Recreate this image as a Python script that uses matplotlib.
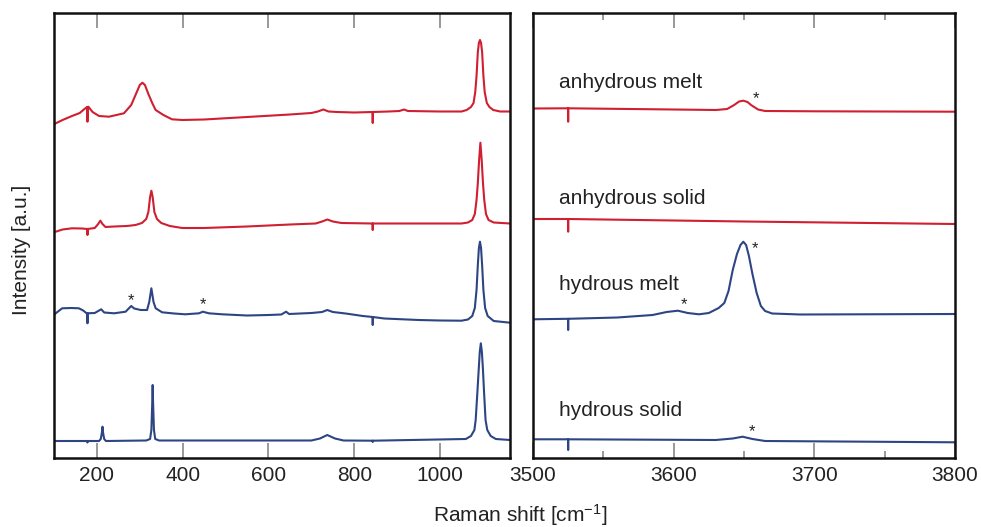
import matplotlib
matplotlib.use("Agg")
import matplotlib.pyplot as plt
from matplotlib.ticker import FixedLocator

plt.rcParams['font.family'] = ['Liberation Sans', 'DejaVu Sans']
plt.rcParams['mathtext.default'] = 'regular'

RED = "#cf1f30"
BLUE = "#2e4584"

# ---------------- left panel (100-1163 cm-1) ----------------
anh_melt_x = [100, 104, 120, 142, 160, 173, 177.9, 178, 178.1, 180, 190, 205, 228, 263, 280, 292, 300, 306,
              312, 320, 330, 337, 355, 375, 399, 450, 550, 650, 700, 715, 728, 740, 760, 800, 842.9, 843,
              843.1, 880, 905, 916, 925, 1000, 1050, 1062, 1072, 1078, 1082, 1085, 1088, 1090.5, 1093,
              1095.5, 1098, 1101, 1104, 1109, 1115, 1124, 1140, 1163]
anh_melt_y = [333, 334.7, 338, 342, 345, 349.7, 351, 336.3, 351, 351.3, 346, 342, 341.3, 344.7, 353, 365, 373,
              375.3, 373, 364, 354, 348, 343, 338.7, 338, 338.5, 341, 343.5, 345, 346.5, 348.5, 346.5, 346,
              345.5, 346, 335, 346, 346.5, 347, 348.5, 347, 346.5, 346.5, 348, 351, 355, 366, 382, 406, 415,
              418, 415, 406, 382, 366, 355, 351, 348, 346.5, 346.5]

anh_solid_x = [100, 104, 120, 142, 165, 177.9, 178, 178.1, 195, 203, 208, 213, 220, 240, 270, 290, 305, 315,
               320, 324, 327, 330, 334, 340, 350, 370, 399, 450, 550, 650, 710, 725, 737, 750, 770, 842.9,
               843, 843.1, 900, 1000, 1050, 1065, 1075, 1081, 1085, 1088, 1091, 1094, 1097, 1100, 1103,
               1107, 1113, 1125, 1163]
anh_solid_y = [226, 226.3, 228.5, 229.7, 229.5, 229, 223, 229, 230, 234, 237.3, 234, 231, 231.5, 232, 233,
               235, 239, 246, 261, 267.3, 261, 246, 239, 235, 232, 230, 230, 231.5, 233.5, 234.5, 236.5,
               238.5, 236.5, 235, 234.5, 228, 234.5, 234.5, 234.5, 234.5, 235.5, 238, 244, 258, 275, 298,
               315.3, 298, 275, 258, 244, 238, 235.5, 234.5]

hyd_melt_x = [100, 104, 119, 140, 158, 168, 176, 177.9, 178, 178.1, 195, 203, 210, 217, 240, 267, 273, 280,
              287, 302, 317, 322, 327, 332, 337, 352, 380, 406, 438, 447, 461, 492, 550, 600, 630, 641, 648,
              700, 725, 737, 750, 780, 820, 842.9, 843, 843.1, 870, 950, 1000, 1050, 1065, 1075, 1081,
              1085, 1088, 1090.5, 1093, 1095.5, 1098, 1101, 1105, 1111, 1125, 1163]
hyd_melt_y = [143, 144.7, 149.7, 150, 149.7, 147.5, 144.7, 144.7, 134.7, 144.7, 145, 147, 148.7, 145.5,
              144.7, 146.3, 149, 152, 149.5, 148, 148, 156, 169.7, 156, 149.7, 145.7, 144.5, 143.7, 144.7,
              146.3, 144.7, 143.7, 142.5, 143, 143.5, 146.3, 144, 145, 146, 148, 146, 144.5, 142, 141, 133,
              141, 139.5, 138, 137.5, 137.3, 138.5, 142, 150, 168, 193, 210, 216.3, 210, 193, 168, 150, 142,
              137, 135.3]

hyd_solid_x = [100, 177.9, 178, 178.1, 205, 209, 211.5, 213, 214.5, 217, 221, 315, 324, 327, 329, 330, 331,
               333, 336, 345, 700, 720, 737, 755, 775, 842.9, 843, 843.1, 1060, 1072, 1080, 1083, 1087,
               1090, 1092.5, 1095, 1097.5, 1100, 1102.5, 1106, 1110, 1118, 1130, 1163]
hyd_solid_y = [17, 17, 15.5, 17, 17, 19, 25, 31.3, 25, 19, 17, 17.5, 19, 28, 55, 73, 55, 28, 19, 17.5, 17.5,
               19.5, 23, 19.5, 17.5, 17.3, 16, 17.3, 19, 22, 28, 38, 66, 88, 106, 114.7, 106, 88, 66, 38, 28,
               22, 19, 18]

# ---------------- right panel (3500-3800 cm-1) ----------------
r_anh_melt_x = [3500, 3524.9, 3525, 3525.1, 3600, 3630, 3638, 3643, 3646.5, 3649.5, 3652.5, 3655, 3660,
                3665, 3700, 3800]
r_anh_melt_y = [349.5, 349.7, 336.3, 349.7, 348.5, 348, 349, 353, 356.5, 357.3, 356, 353, 348.5, 347,
                346.7, 346.3]

r_anh_solid_x = [3500, 3524.9, 3525, 3525.1, 3650, 3800]
r_anh_solid_y = [239, 239, 226.3, 239, 236.5, 234]

r_hyd_melt_x = [3500, 3524.9, 3525, 3525.1, 3560, 3585, 3595, 3603, 3610, 3618, 3625, 3632, 3636, 3639,
                3642, 3645, 3647.5, 3649.5, 3651.5, 3653.5, 3656, 3659, 3662, 3665, 3670, 3690, 3800]
r_hyd_melt_y = [138.7, 139.2, 128, 139.2, 140.5, 143, 146, 147.3, 145, 143.7, 145, 150, 155, 167,
                188, 204, 213, 216.3, 213, 202, 184, 165, 152, 147, 144.5, 143.5, 144]

r_hyd_solid_x = [3500, 3524.9, 3525, 3525.1, 3630, 3642, 3649, 3656, 3665, 3800]
r_hyd_solid_y = [18.7, 18.7, 8, 18.7, 18, 19.5, 21.3, 19, 17, 15.7]

# annotations
left_star_x = [280, 447]
left_star_y = [157.3, 153.7]
right_star_x = [3658.3, 3657.8, 3607, 3655.4]
right_star_y = [359.3, 209.7, 153, 26.3]

sample_labels = ["anhydrous melt", "anhydrous solid", "hydrous melt", "hydrous solid"]
label_y = [375, 259, 173, 48]
label_x = 3518.5

left_ticks = [200, 400, 600, 800, 1000]
right_ticks = [3500, 3600, 3700, 3800]
right_minor = [3550, 3650, 3750]

fig = plt.figure(figsize=(9.81, 5.27), dpi=100)
axL = fig.add_axes([54 / 981, 69 / 527, 456 / 981, 445 / 527])
axR = fig.add_axes([533 / 981, 69 / 527, 422 / 981, 445 / 527])

lw = 1.5
axL.plot(anh_melt_x, anh_melt_y, color=RED, lw=lw)
axL.plot(anh_solid_x, anh_solid_y, color=RED, lw=lw)
axL.plot(hyd_melt_x, hyd_melt_y, color=BLUE, lw=lw)
axL.plot(hyd_solid_x, hyd_solid_y, color=BLUE, lw=lw)

axR.plot(r_anh_melt_x, r_anh_melt_y, color=RED, lw=lw)
axR.plot(r_anh_solid_x, r_anh_solid_y, color=RED, lw=lw)
axR.plot(r_hyd_melt_x, r_hyd_melt_y, color=BLUE, lw=lw)
axR.plot(r_hyd_solid_x, r_hyd_solid_y, color=BLUE, lw=lw)

for sx, sy in zip(left_star_x, left_star_y):
    axL.text(sx, sy, "*", ha="center", va="center", fontsize=12, color="#222222")
for sx, sy in zip(right_star_x, right_star_y):
    axR.text(sx, sy, "*", ha="center", va="center", fontsize=12, color="#222222")
for lab, ly in zip(sample_labels, label_y):
    axR.text(label_x, ly, lab, ha="left", va="center", fontsize=15, color="#222222")

axL.set_xlim(100, 1163)
axR.set_xlim(3500, 3800)
for ax in (axL, axR):
    ax.set_ylim(0, 445)
    ax.set_yticks([])
    for sp in ax.spines.values():
        sp.set_linewidth(1.8)
        sp.set_color("#111111")
    ax.tick_params(axis="x", which="both", direction="in", top=True, bottom=True,
                   color="#888888", labelsize=15, pad=6, labelcolor="#222222")
    ax.tick_params(axis="x", which="major", length=10.5, width=1.2)
    ax.tick_params(axis="x", which="minor", length=5, width=1.2)

axL.set_xticks(left_ticks)
axR.set_xticks(right_ticks)
axR.xaxis.set_minor_locator(FixedLocator(right_minor))

fig.text(0.53, 0.022, "Raman shift [cm$^{-1}$]", ha="center", va="center", fontsize=15, color="#222222")
fig.text(0.022, 0.525, "Intensity [a.u.]", ha="center", va="center", rotation=90, fontsize=15,
         color="#222222")

fig.savefig("out.png", dpi=100)
